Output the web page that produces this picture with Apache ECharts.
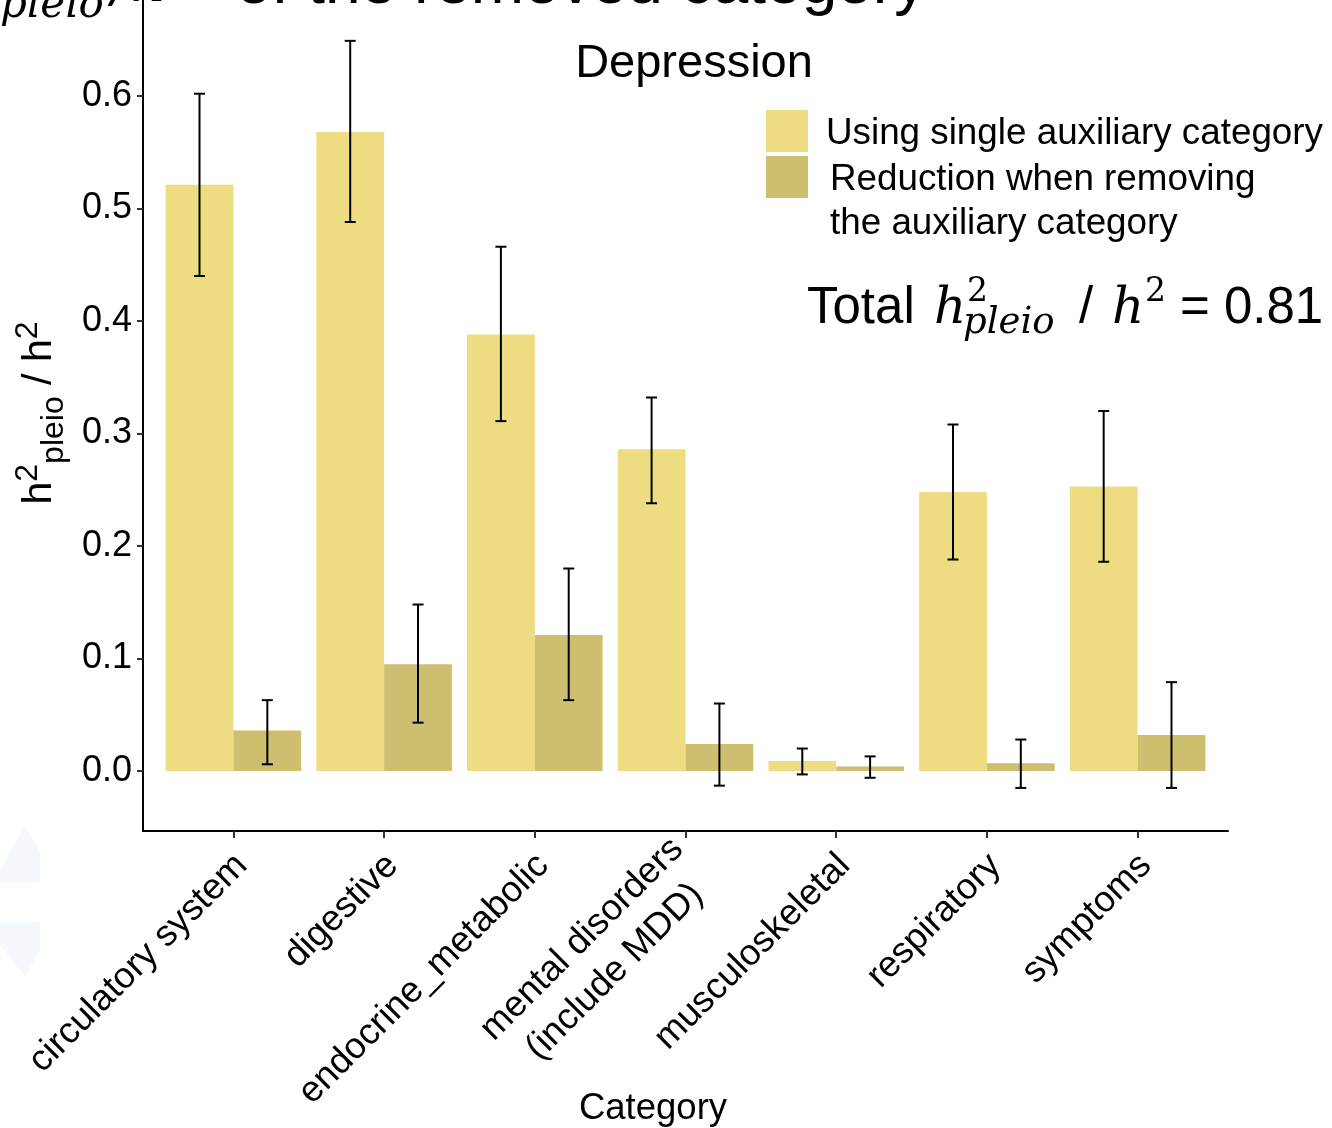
<!DOCTYPE html>
<html>
<head>
<meta charset="utf-8">
<script src="https://cdn.jsdelivr.net/npm/echarts@6/dist/echarts.min.js"></script>
<style>
html,body{margin:0;padding:0;background:#fff;}
#main{width:1332px;height:1128px;}
</style>
</head>
<body>
<div id="main"></div>
<script>
// ---- data ----
const categories = ['circulatory system', 'digestive', 'endocrine_metabolic', 'mental disorders\n(include MDD)', 'musculoskeletal', 'respiratory', 'symptoms'];
const singleVals = [0.521, 0.568, 0.388, 0.286, 0.009, 0.248, 0.253];
const singleLow = [0.440, 0.488, 0.311, 0.238, -0.003, 0.188, 0.186];
const singleHigh = [0.602, 0.649, 0.466, 0.332, 0.020, 0.308, 0.320];
const reductionVals = [0.036, 0.095, 0.121, 0.024, 0.004, 0.007, 0.032];
const reductionLow = [0.006, 0.043, 0.063, -0.013, -0.006, -0.015, -0.015];
const reductionHigh = [0.063, 0.148, 0.180, 0.060, 0.013, 0.028, 0.079];
const yTicks = [0, 0.1, 0.2, 0.3, 0.4, 0.5, 0.6];
const seriesNames = ['Using single auxiliary category', 'Reduction when removing\nthe auxiliary category'];
const colors = ['#EEDC82', '#CDBE70'];

const SANS = 'Arial, "Liberation Sans", Helvetica, sans-serif';
const SERIF = '"DejaVu Serif", "Liberation Serif", serif';
const BAR_W = 0.45;
const LABEL_SHIFT = 0.055; // rotated label anchor nudge (fraction of a category)
const XLAB_SIZE = 36.5;

// widest line among multi-line labels (so their lines can be centred within the block)
const mctx = document.createElement('canvas').getContext('2d');
mctx.font = XLAB_SIZE + 'px ' + SANS;
let multiW = 0;
categories.forEach(c => { if (c.indexOf('\n') >= 0) c.split('\n').forEach(l => { multiW = Math.max(multiW, mctx.measureText(l).width); }); });

const chart = echarts.init(document.getElementById('main'), null, {renderer: 'canvas'});

function barItem(offsetSign) {
  return function (params, api) {
    const i = api.value(0), v = api.value(1);
    const x0 = offsetSign < 0 ? i - BAR_W : i;
    const x1 = offsetSign < 0 ? i : i + BAR_W;
    const p0 = api.coord([x0, v]);
    const p1 = api.coord([x1, 0]);
    return {
      type: 'rect',
      shape: {x: p0[0], y: Math.min(p0[1], p1[1]), width: p1[0] - p0[0], height: Math.abs(p1[1] - p0[1])},
      style: {fill: api.visual('color')}
    };
  };
}
function errItem(offset) {
  return function (params, api) {
    const x = api.value(0) + offset;
    const lo = api.coord([x, api.value(1)]);
    const hi = api.coord([x, api.value(2)]);
    const hw = 5.5;
    const st = {stroke: '#000', lineWidth: 2};
    return {
      type: 'group',
      children: [
        {type: 'line', shape: {x1: lo[0], y1: lo[1], x2: hi[0], y2: hi[1]}, style: st},
        {type: 'line', shape: {x1: hi[0] - hw, y1: hi[1], x2: hi[0] + hw, y2: hi[1]}, style: st},
        {type: 'line', shape: {x1: lo[0] - hw, y1: lo[1], x2: lo[0] + hw, y2: lo[1]}, style: st}
      ]
    };
  };
}

const idx = categories.map((c, i) => i);

const option = {
  backgroundColor: '#fff',
  animation: false,
  grid: {left: 143, right: 104, top: 0, bottom: 297, containLabel: false},
  xAxis: {
    type: 'value', min: -0.6, max: 6.6,
    splitLine: {show: false},
    axisLine: {show: true, onZero: false, lineStyle: {color: '#000', width: 2}},
    axisTick: {show: true, length: 7, lineStyle: {color: '#333', width: 2}, customValues: idx},
    axisLabel: {
      customValues: idx.map(i => i + LABEL_SHIFT), rotate: 45, align: 'right', verticalAlign: 'middle', margin: 29,
      fontSize: XLAB_SIZE, color: '#000', fontFamily: SANS, lineHeight: 46,
      formatter: v => {
        const c = categories[Math.round(v)];
        if (c.indexOf('\n') < 0) return c;
        return c.split('\n').map(l => '{m|' + l + '}').join('\n');
      },
      rich: {
        m: {width: multiW, align: 'center', fontSize: XLAB_SIZE, fontFamily: SANS, color: '#000', lineHeight: 46}
      }
    }
  },
  yAxis: {
    type: 'value', min: -0.0533, max: 0.6853,
    splitLine: {show: false},
    axisLine: {show: true, onZero: false, lineStyle: {color: '#000', width: 2}},
    axisTick: {show: true, length: 6, lineStyle: {color: '#333', width: 2}, customValues: yTicks},
    axisLabel: {customValues: yTicks, margin: 11, fontSize: 36, color: '#000', fontFamily: SANS, formatter: v => v.toFixed(1)}
  },
  series: [
    {type: 'custom', name: seriesNames[0], renderItem: barItem(-1), itemStyle: {color: colors[0]},
      data: singleVals.map((v, i) => [i, v]), encode: {x: 0, y: 1}, z: 2},
    {type: 'custom', name: seriesNames[1], renderItem: barItem(1), itemStyle: {color: colors[1]},
      data: reductionVals.map((v, i) => [i, v]), encode: {x: 0, y: 1}, z: 2},
    {type: 'custom', renderItem: errItem(-BAR_W / 2),
      data: singleLow.map((v, i) => [i, v, singleHigh[i]]), encode: {x: 0, y: [1, 2]}, z: 3},
    {type: 'custom', renderItem: errItem(BAR_W / 2),
      data: reductionLow.map((v, i) => [i, v, reductionHigh[i]]), encode: {x: 0, y: [1, 2]}, z: 3}
  ],
  graphic: [
    // faint artifacts at left
    {type: 'polygon', shape: {points: [[0, 870], [25, 825], [40, 852], [40, 883], [0, 883]]}, style: {fill: '#F5F9FE'}, silent: true},
    {type: 'polygon', shape: {points: [[0, 922], [40, 922], [40, 950], [25, 977], [0, 945]]}, style: {fill: '#F5F9FE'}, silent: true},
    // clipped top title
    {type: 'text', x: 0, y: 6, style: {text: 'pleio', font: 'italic 42px ' + SERIF, fill: '#000', verticalAlign: 'middle'}},
    {type: 'text', x: 112, y: -14, style: {text: '/h', font: 'italic 56px ' + SERIF, fill: '#000', verticalAlign: 'middle'}},
    {type: 'text', x: 236, y: -15, style: {text: 'of the removed category', font: '64px ' + SANS, fill: '#000', verticalAlign: 'middle'}},
    // panel title
    {type: 'text', x: 694, y: 64, style: {text: 'Depression', font: '47px ' + SANS, fill: '#000', align: 'center', verticalAlign: 'middle'}},
    // legend
    {type: 'rect', shape: {x: 766, y: 110, width: 42, height: 42}, style: {fill: colors[0]}},
    {type: 'rect', shape: {x: 766, y: 156, width: 42, height: 42}, style: {fill: colors[1]}},
    {type: 'text', x: 826, y: 134, style: {text: seriesNames[0], font: '36.8px ' + SANS, fill: '#000', verticalAlign: 'middle'}},
    {type: 'text', x: 830, y: 180, style: {text: seriesNames[1].split('\n')[0], font: '36.8px ' + SANS, fill: '#000', verticalAlign: 'middle'}},
    {type: 'text', x: 830, y: 224, style: {text: seriesNames[1].split('\n')[1], font: '36.8px ' + SANS, fill: '#000', verticalAlign: 'middle'}},
    // total annotation
    {type: 'text', x: 807, y: 309, style: {text: 'Total', font: '51px ' + SANS, fill: '#000', verticalAlign: 'middle'}},
    {type: 'text', x: 934, y: 310, style: {text: 'h', font: 'italic 50px ' + SERIF, fill: '#000', verticalAlign: 'middle'}},
    {type: 'text', x: 967, y: 292, style: {text: '2', font: '33px ' + SERIF, fill: '#000', verticalAlign: 'middle'}},
    {type: 'text', x: 963, y: 323, style: {text: 'pleio', font: 'italic 37px ' + SERIF, fill: '#000', verticalAlign: 'middle'}},
    {type: 'text', x: 1079, y: 309, style: {text: '/', font: '51px ' + SANS, fill: '#000', verticalAlign: 'middle'}},
    {type: 'text', x: 1112, y: 310, style: {text: 'h', font: 'italic 50px ' + SERIF, fill: '#000', verticalAlign: 'middle'}},
    {type: 'text', x: 1145, y: 292, style: {text: '2', font: '33px ' + SERIF, fill: '#000', verticalAlign: 'middle'}},
    {type: 'text', x: 1180, y: 309, style: {text: '= 0.81', font: '51px ' + SANS, fill: '#000', verticalAlign: 'middle'}},
    // axis titles
    {type: 'text', x: 653, y: 1109, style: {text: 'Category', font: '36.5px ' + SANS, fill: '#000', align: 'center', verticalAlign: 'middle'}},
    {type: 'text', x: 40, y: 413, rotation: Math.PI / 2,
      style: {
        text: '{n|h}{sup|2}{sub|pleio}{n| / h}{sup|2}', align: 'center', verticalAlign: 'middle', fill: '#000',
        rich: {
          n: {fontSize: 41, fontFamily: SANS, lineHeight: 60, verticalAlign: 'middle'},
          sup: {fontSize: 32, fontFamily: SANS, lineHeight: 60, verticalAlign: 'top', padding: [2, 0, 0, 0]},
          sub: {fontSize: 32, fontFamily: SANS, lineHeight: 60, verticalAlign: 'bottom'}
        }
      }}
  ]
};
chart.setOption(option);
</script>
</body>
</html>
